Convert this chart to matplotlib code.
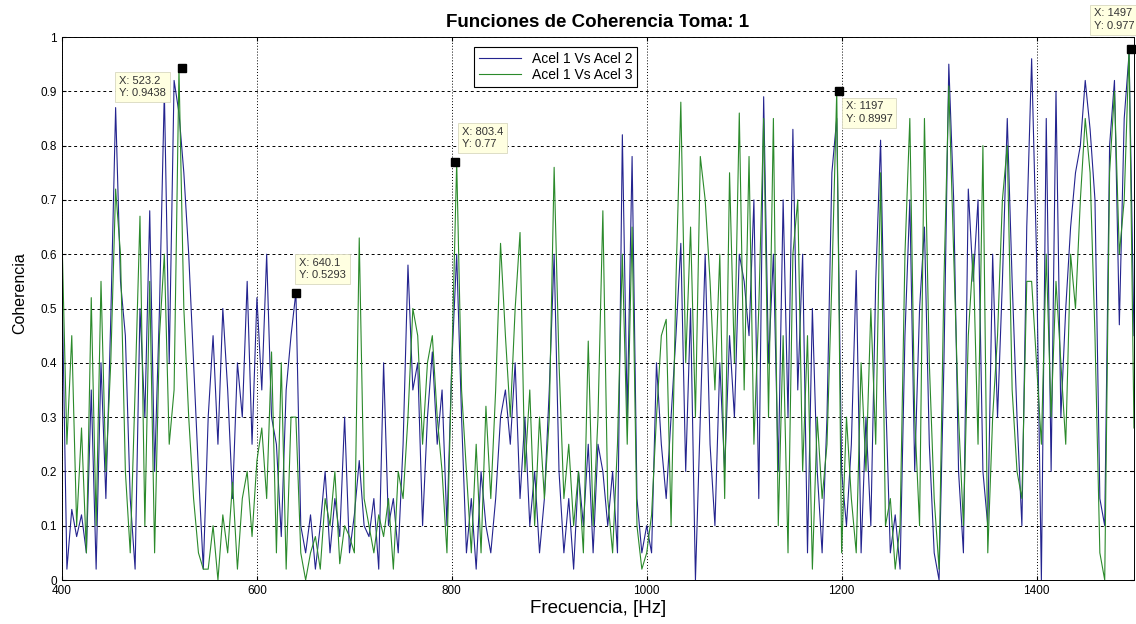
import numpy as np
import matplotlib
matplotlib.use("Agg")
import matplotlib.pyplot as plt

plt.rcParams['font.family'] = ['Liberation Sans', 'DejaVu Sans']

# frequency axis, one value every 5 Hz
freq = np.arange(400, 1501, 5)

# Acel 1 Vs Acel 2 (blue)
coh_12 = [
    0.55, 0.02, 0.13, 0.08, 0.12, 0.05, 0.35, 0.02, 0.40, 0.15,
    0.48, 0.87, 0.55, 0.45, 0.15, 0.02, 0.50, 0.30, 0.68, 0.20,
    0.50, 0.90, 0.40, 0.92, 0.86, 0.75, 0.60, 0.40, 0.20, 0.02,
    0.30, 0.45, 0.25, 0.50, 0.35, 0.15, 0.40, 0.30, 0.55, 0.25,
    0.52, 0.35, 0.60, 0.30, 0.25, 0.08, 0.35, 0.45, 0.53, 0.10,
    0.05, 0.12, 0.02, 0.10, 0.20, 0.05, 0.15, 0.08, 0.30, 0.05,
    0.12, 0.22, 0.10, 0.08, 0.15, 0.02, 0.40, 0.10, 0.15, 0.05,
    0.25, 0.58, 0.35, 0.40, 0.10, 0.30, 0.42, 0.25, 0.35, 0.10,
    0.40, 0.60, 0.30, 0.05, 0.15, 0.02, 0.20, 0.10, 0.05, 0.15,
    0.30, 0.35, 0.25, 0.40, 0.15, 0.30, 0.10, 0.20, 0.05, 0.15,
    0.35, 0.60, 0.20, 0.05, 0.15, 0.02, 0.20, 0.10, 0.25, 0.05,
    0.25, 0.20, 0.10, 0.20, 0.05, 0.82, 0.30, 0.78, 0.15, 0.05,
    0.10, 0.05, 0.40, 0.25, 0.15, 0.30, 0.45, 0.62, 0.20, 0.50,
    0.00, 0.30, 0.60, 0.25, 0.10, 0.40, 0.20, 0.45, 0.30, 0.60,
    0.55, 0.45, 0.70, 0.15, 0.89, 0.40, 0.60, 0.20, 0.70, 0.30,
    0.83, 0.35, 0.60, 0.05, 0.50, 0.20, 0.05, 0.30, 0.75, 0.85,
    0.20, 0.10, 0.25, 0.57, 0.05, 0.30, 0.10, 0.55, 0.81, 0.35,
    0.05, 0.12, 0.02, 0.45, 0.70, 0.20, 0.50, 0.65, 0.25, 0.05,
    0.00, 0.40, 0.95, 0.70, 0.20, 0.05, 0.72, 0.55, 0.70, 0.20,
    0.10, 0.60, 0.30, 0.55, 0.85, 0.55, 0.30, 0.10, 0.65, 0.96,
    0.60, 0.00, 0.85, 0.20, 0.90, 0.30, 0.50, 0.65, 0.75, 0.80,
    0.92, 0.83, 0.70, 0.15, 0.10, 0.80, 0.92, 0.47, 0.85, 0.97,
    0.45,
]

# Acel 1 Vs Acel 3 (green)
coh_13 = [
    0.63, 0.25, 0.45, 0.10, 0.28, 0.05, 0.52, 0.10, 0.55, 0.20,
    0.40, 0.72, 0.60, 0.20, 0.05, 0.35, 0.67, 0.10, 0.55, 0.05,
    0.45, 0.60, 0.25, 0.35, 0.94, 0.50, 0.30, 0.15, 0.05, 0.02,
    0.02, 0.10, 0.00, 0.12, 0.05, 0.18, 0.02, 0.15, 0.20, 0.08,
    0.22, 0.28, 0.15, 0.42, 0.05, 0.40, 0.02, 0.30, 0.30, 0.05,
    0.00, 0.05, 0.08, 0.02, 0.15, 0.10, 0.20, 0.03, 0.10, 0.08,
    0.05, 0.63, 0.15, 0.10, 0.05, 0.12, 0.08, 0.15, 0.02, 0.20,
    0.15, 0.30, 0.50, 0.45, 0.25, 0.40, 0.45, 0.30, 0.20, 0.05,
    0.40, 0.77, 0.35, 0.20, 0.05, 0.25, 0.05, 0.32, 0.15, 0.35,
    0.62, 0.45, 0.30, 0.50, 0.64, 0.20, 0.35, 0.10, 0.30, 0.15,
    0.30, 0.76, 0.40, 0.15, 0.25, 0.10, 0.20, 0.05, 0.44, 0.10,
    0.30, 0.68, 0.15, 0.05, 0.25, 0.60, 0.25, 0.65, 0.10, 0.02,
    0.05, 0.12, 0.30, 0.45, 0.48, 0.10, 0.55, 0.88, 0.40, 0.65,
    0.30, 0.78, 0.70, 0.55, 0.35, 0.60, 0.15, 0.75, 0.40, 0.86,
    0.35, 0.78, 0.25, 0.50, 0.85, 0.30, 0.85, 0.10, 0.45, 0.05,
    0.60, 0.70, 0.20, 0.45, 0.02, 0.30, 0.15, 0.25, 0.55, 0.90,
    0.05, 0.30, 0.15, 0.05, 0.40, 0.20, 0.50, 0.25, 0.75, 0.10,
    0.15, 0.02, 0.10, 0.60, 0.85, 0.30, 0.10, 0.85, 0.40, 0.15,
    0.02, 0.55, 0.91, 0.60, 0.30, 0.10, 0.45, 0.60, 0.25, 0.80,
    0.05, 0.30, 0.45, 0.70, 0.80, 0.35, 0.20, 0.15, 0.55, 0.55,
    0.40, 0.25, 0.60, 0.30, 0.55, 0.40, 0.25, 0.60, 0.50, 0.70,
    0.85, 0.75, 0.45, 0.05, 0.00, 0.75, 0.90, 0.60, 0.70, 0.98,
    0.28,
]

# data tips: x, y, text offset in pixels
tip_x = [523.2, 640.1, 803.4, 1197, 1497]
tip_y = [0.9438, 0.5293, 0.77, 0.8997, 0.977]
tip_dx = [-63, 3, 7, 7, -37]
tip_dy = [-8, 35, 35, -10, 41]

fig = plt.figure(figsize=(11.36, 6.24), dpi=100)
ax = fig.add_axes([0.0546, 0.0705, 0.9436, 0.8702])

ax.plot(freq, coh_12, color='#24248f', lw=0.8, label='Acel 1 Vs Acel 2')
ax.plot(freq, coh_13, color='#2b8a2b', lw=0.8, label='Acel 1 Vs Acel 3')

ax.set_xlim(400, 1500)
ax.set_ylim(0, 1)
ax.set_xticks([400, 600, 800, 1000, 1200, 1400])
yt = np.round(np.arange(0, 1.01, 0.1), 1)
ax.set_yticks(yt)
ax.set_yticklabels(['0' if v == 0 else '1' if v == 1 else f'{v:g}' for v in yt])
ax.tick_params(labelsize=8.5, direction='in', length=3, top=True, right=True)

ax.yaxis.grid(True, color='black', linestyle=(0, (3, 3)), lw=0.7)
ax.xaxis.grid(True, color='black', linestyle=(0, (1, 2)), lw=0.7)

for s in ax.spines.values():
    s.set_linewidth(0.7)

ax.set_title('Funciones de Coherencia Toma: 1', fontsize=13.5, fontweight='bold', pad=7)
ax.set_xlabel('Frecuencia, [Hz]', fontsize=13.5, labelpad=2)
ax.set_ylabel('Coherencia', fontsize=11.5)
ax.yaxis.set_label_coords(-0.032, 0.528)

leg = ax.legend(loc='upper left', bbox_to_anchor=(0.378, 0.995), fontsize=10,
                fancybox=False, framealpha=1, edgecolor='black',
                handlelength=3.0, borderpad=0.35, labelspacing=0.2)
leg.get_frame().set_linewidth(0.8)

for x, y, dx, dy in zip(tip_x, tip_y, tip_dx, tip_dy):
    ax.plot(x, y, 's', color='black', ms=6, clip_on=False, zorder=5)
    ax.annotate(f'X: {x:g}\nY: {y:g}', (x, y), xytext=(dx, dy),
                textcoords='offset pixels', ha='left', va='top',
                fontsize=8, color='#333333', linespacing=1.3,
                annotation_clip=False, zorder=6,
                bbox=dict(boxstyle='square,pad=0.35', fc='#ffffe1', ec='#d8d8c0', lw=0.6))

fig.savefig('out.png', dpi=100)
